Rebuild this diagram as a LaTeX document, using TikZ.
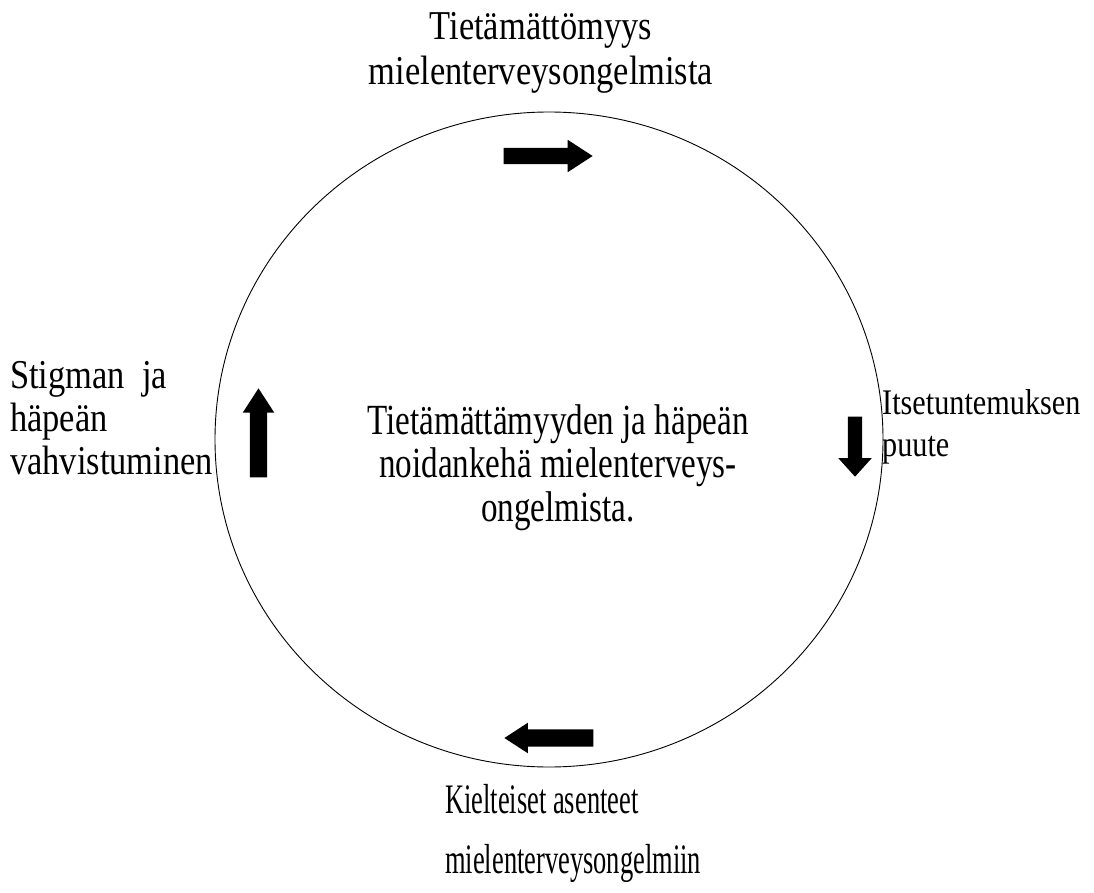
\documentclass[tikz,border=0pt]{standalone}
\usepackage{fontspec}
\setmainfont{Liberation Serif}
\newfontfamily\narrowA{Liberation Serif}[FakeStretch=0.84]
\newfontfamily\narrowC{Liberation Serif}[FakeStretch=0.77]
\newfontfamily\narrowB{Liberation Serif}[FakeStretch=0.63]
\usetikzlibrary{shapes.geometric, shapes.arrows}

\tikzset{
    blockarrow/.style={single arrow, fill=black, inner sep=8pt, minimum width=32pt, anchor=tip,
        single arrow head extend=8pt, single arrow tip angle=66},
    label/.style={inner sep=0pt, anchor=base west, align=left}
}

\begin{document}
\begin{tikzpicture}[x=1pt, y=-1pt]
    \useasboundingbox (0,0) rectangle (1094,893);

        % Cycle
        \node[draw, ellipse, line width=0.9pt, minimum width=668pt, minimum height=655pt] (cycle) at (549,439.5) {};

        % Centre text
        \node[inner sep=0pt, anchor=base, align=center, font=\narrowC\fontsize{43}{43.5}\selectfont] (title) at (558,521)
            {Tietämättämyyden ja häpeän\\noidankehä mielenterveys-\\ongelmista.};

        % Stages
        \node[inner sep=0pt, anchor=base, align=center, font=\narrowA\fontsize{41}{45}\selectfont] (ignorance) at (541,85)
            {Tietämättömyys\\mielenterveysongelmista};
        \node[label, font=\narrowA\fontsize{36}{42}\selectfont] (selfknow) at (882,456)
            {Itsetuntemuksen\\puute};
        \node[label, font=\narrowB\fontsize{42}{60}\selectfont] (attitudes) at (445,873)
            {Kielteiset asenteet\\mielenterveysongelmiin};
        \node[label, font=\narrowA\fontsize{41}{43}\selectfont] (stigma) at (10,474)
            {Stigman\ \ ja\\häpeän\\vahvistuminen};

        % Block arrows
        \node[blockarrow, minimum height=89pt] (toright) at (593,156) {};
        \node[blockarrow, minimum height=60pt, inner sep=7pt, minimum width=33pt, single arrow head extend=9.5pt,
            single arrow tip angle=84, shape border rotate=270] (todown) at (855,477) {};
        \node[blockarrow, minimum height=89pt, inner sep=8.5pt, minimum width=30pt, single arrow head extend=6.5pt,
            shape border rotate=180] (toleft) at (504,738) {};
        \node[blockarrow, minimum height=89pt, inner sep=8.5pt, minimum width=31pt, single arrow head extend=7pt,
            shape border rotate=90] (toup) at (258.5,388) {};

\end{tikzpicture}
\end{document}
